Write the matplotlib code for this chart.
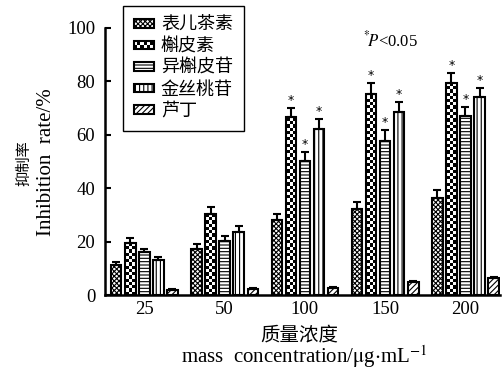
import numpy as np
import matplotlib
matplotlib.use('Agg')
import matplotlib.pyplot as plt
from matplotlib.patches import Patch, Rectangle
from matplotlib.legend_handler import HandlerBase

plt.rcParams['font.family'] = ['Liberation Serif', 'Noto Sans CJK SC']
plt.rcParams['hatch.linewidth'] = 0.8
plt.rcParams['mathtext.fontset'] = 'stix'

# data
concs = ['25', '50', '100', '150', '200']
compounds = ['表儿茶素', '槲皮素', '异槲皮苷', '金丝桃苷', '芦丁']
vals = [
    [11.2, 17.2, 28, 32.2, 36.3],      # 表儿茶素
    [19.5, 30.3, 66.7, 75.3, 79.4],    # 槲皮素
    [16.1, 20.2, 50.2, 57.7, 67],      # 异槲皮苷
    [13.1, 23.6, 62.2, 68.5, 74.2],    # 金丝桃苷
    [1.9, 2.2, 2.6, 4.9, 6.3],         # 芦丁
]
errs = [
    [1.2, 1.9, 2.3, 2.6, 3],
    [1.9, 2.5, 3.3, 4.1, 3.7],
    [1.1, 2, 3.4, 4.1, 3.4],
    [1.1, 2.2, 3.8, 3.8, 3.3],
    [0.4, 0.4, 0.4, 0.4, 0.4],
]
signif = [
    [0, 0, 0, 0, 0],
    [0, 0, 1, 1, 1],
    [0, 0, 1, 1, 1],
    [0, 0, 1, 1, 1],
    [0, 0, 0, 0, 0],
]
hatches = ['xxxxxxx', None, '-----', '||||', '//////']

fig = plt.figure(figsize=(5.04, 3.76), dpi=100)
ax = fig.add_axes([105/504, 1-295/376, 395/504, 267/376])

x = np.arange(len(concs))
step = 0.175
w = 0.13
checker_h = 1.2  # data units per checker square

for i in range(len(compounds)):
    xi = x + (i - 2) * step
    if hatches[i] is None:
        # checkerboard fill
        for xx, v in zip(xi, vals[i]):
            clip = Rectangle((xx - w/2, 0), w, v, transform=ax.transData)
            nr = max(1, int(round(v / checker_h)))
            img = (np.add.outer(np.arange(nr), np.arange(3)) % 2)[::-1]
            im = ax.imshow(img, cmap='gray', extent=(xx - w/2, xx + w/2, 0, nr * checker_h),
                           aspect='auto', interpolation='nearest', vmin=0, vmax=1,
                           zorder=1.5)
            im.set_clip_path(clip)
            ax.add_patch(Rectangle((xx - w/2, 0), w, v, facecolor='none',
                                   edgecolor='black', linewidth=1.5, zorder=2))
    else:
        ax.bar(xi, vals[i], w, facecolor='white', edgecolor='black', hatch=hatches[i],
               linewidth=1.5)
    ax.errorbar(xi, vals[i], yerr=[np.zeros(len(concs)), errs[i]], fmt='none',
                ecolor='black', elinewidth=1.5, capsize=3, capthick=1.5, zorder=3)
    for xx, v, e, s in zip(xi, vals[i], errs[i], signif[i]):
        if s:
            ax.text(xx, v + e + 0.3, '*', ha='center', va='bottom', fontsize=9,
                    family='DejaVu Sans')

ax.set_xlim(-0.49, 4.43)
ax.set_ylim(0, 100)
ax.set_xticks(x)
ax.set_xticklabels(concs)
ax.set_yticks([0, 20, 40, 60, 80, 100])
ax.tick_params(axis='y', direction='in', length=4, width=1.5, labelsize=13.5, pad=7)
ax.tick_params(axis='x', length=0, labelsize=13.5, pad=4)
for s in ['top', 'right']:
    ax.spines[s].set_visible(False)
ax.spines['left'].set_linewidth(1.8)
ax.spines['bottom'].set_linewidth(1.8)

fig.text(24/504, 1-163/376, '抑制率', rotation=90, ha='center', va='center', fontsize=11)
fig.text(47/504, 1-162/376, 'Inhibition  rate/%', rotation=90, ha='center', va='center',
         fontsize=15)
fig.text(299/504, 1-335/376, '质量浓度', ha='center', va='center', fontsize=14)
fig.text(304/504, 1-357/376, r'mass  concentration/$\mathrm{\mu}$g$\cdot$mL$^{-1}$',
         ha='center', va='center', fontsize=15)
fig.text(363/504, 1-40/376, r'$^{*}\!P$<0.05', ha='left', va='center', fontsize=12)


class CheckerHandler(HandlerBase):
    def create_artists(self, legend, orig_handle, xdescent, ydescent, width, height,
                       fontsize, trans):
        arts = []
        nc, nr = 6, 2
        cw, chh = width / nc, height / nr
        for r in range(nr):
            for c in range(nc):
                if (r + c) % 2 == 0:
                    arts.append(Rectangle((-xdescent + c * cw, -ydescent + r * chh), cw, chh,
                                          facecolor='black', edgecolor='none', transform=trans))
        arts.append(Rectangle((-xdescent, -ydescent), width, height, facecolor='none',
                              edgecolor='black', linewidth=1.5, transform=trans))
        return arts


handles = []
hmap = {}
for i, name in enumerate(compounds):
    p = Patch(facecolor='white', edgecolor='black', hatch=hatches[i], linewidth=1.5)
    if hatches[i] is None:
        hmap[p] = CheckerHandler()
    handles.append(p)

leg = fig.legend(handles, compounds, loc='upper left', bbox_to_anchor=(123/504, 1-6/376),
                 bbox_transform=fig.transFigure, fancybox=False, edgecolor='black',
                 framealpha=1, fontsize=13, handlelength=1.1, handleheight=0.35,
                 labelspacing=0.25, handletextpad=0.4, borderpad=0.6, borderaxespad=0,
                 handler_map=hmap)
leg.get_frame().set_linewidth(1.0)

fig.savefig('out.png', dpi=100)
